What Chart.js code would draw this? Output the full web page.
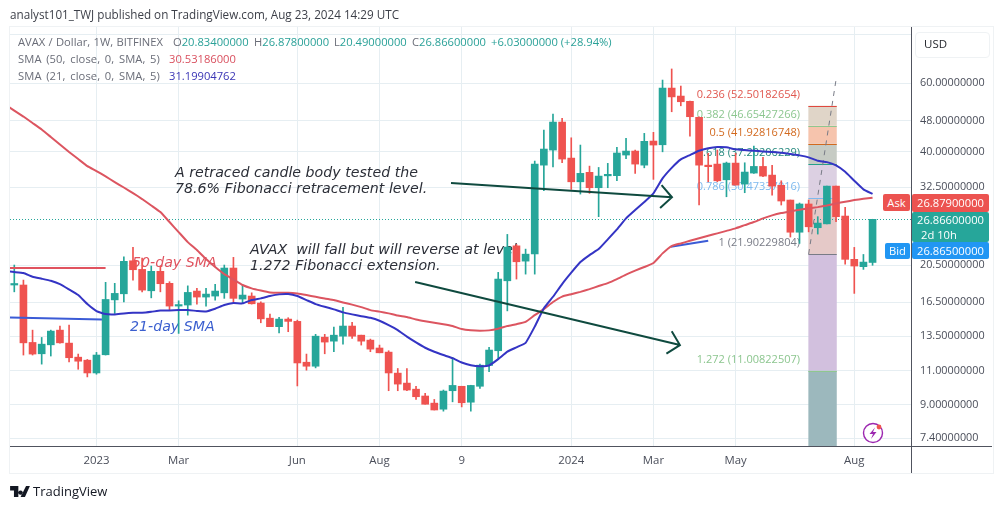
<!DOCTYPE html>
<html>
<head>
<meta charset="utf-8">
<title>AVAX / Dollar</title>
<script src="https://cdn.jsdelivr.net/npm/chart.js@4/dist/chart.umd.min.js"></script>
<style>
  html, body { margin: 0; padding: 0; background: #fff; }
  #wrap { position: relative; width: 1003px; height: 509px; overflow: hidden; font-family: "Open Sans", sans-serif; }
  #wrap canvas { position: absolute; left: 0; top: 0; }
  .t { position: absolute; white-space: pre; font-size: 11.2px; line-height: 14px; color: #6a6d78; }
  .w { word-spacing: 1.6px; letter-spacing: 0.1px; }
  .g { color: #2aa198; }
  .box { position: absolute; }
  .tag { position: absolute; color: #fff; font-size: 11.2px; text-align: center; border-radius: 2px; }
</style>
</head>
<body>
<div id="wrap">
  <canvas id="chart" width="1003" height="509"></canvas>

  <div class="box" style="left:9px;top:26px;width:983px;height:446px;border:1.5px solid #eff2f4;box-sizing:content-box;pointer-events:none"></div>
  <div class="box" style="left:911px;top:27px;width:1px;height:446px;background:#50535e"></div>
  <div class="box" style="left:10px;top:446px;width:982px;height:1px;background:#50535e"></div>

  <div class="t" style="left:10px;top:7px;font-size:11.7px;color:#3c3f48">analyst101_TWJ published on TradingView.com, Aug 23, 2024 14:29 UTC</div>
  <div class="t" style="left:18px;top:35px;word-spacing:0.4px">AVAX / Dollar, 1W, BITFINEX</div>
  <div class="t" style="left:173px;top:35px">O<span class="g">20.83400000</span></div>
  <div class="t" style="left:254px;top:35px">H<span class="g">26.87800000</span></div>
  <div class="t" style="left:334px;top:35px">L<span class="g">20.49000000</span></div>
  <div class="t" style="left:412px;top:35px">C<span class="g">26.86600000</span></div>
  <div class="t g" style="left:491px;top:35px">+6.03000000 (+28.94%)</div>
  <div class="t w" style="left:18px;top:52px">SMA (50, close, 0, SMA, 5)</div>
  <div class="t" style="left:169px;top:52px;color:#d9505f">30.53186000</div>
  <div class="t w" style="left:18px;top:69px">SMA (21, close, 0, SMA, 5)</div>
  <div class="t" style="left:169px;top:69px;color:#3a35b5">31.19904762</div>

  <div class="box" style="left:915px;top:32px;width:73px;height:24px;background:#fff;border:1px solid #eff2f4;border-radius:4px"></div>
  <div class="t" style="left:924px;top:37px;color:#26282e;font-size:11.5px">USD</div>

  <div class="tag" style="left:883px;top:194px;width:27px;height:17px;line-height:17px;background:#ec5350">Ask</div>
  <div class="tag" style="left:912px;top:194px;width:77px;height:18px;line-height:18px;background:#ec5350">26.87900000</div>
  <div class="tag" style="left:912px;top:212px;width:77px;height:30px;background:#26a69a;line-height:14.5px;padding-top:1px;box-sizing:border-box">26.86600000<br><span style="display:block;text-align:left;padding-left:9px">2d 10h</span></div>
  <div class="tag" style="left:885px;top:243px;width:25px;height:16px;line-height:16px;background:#2196f3">Bid</div>
  <div class="tag" style="left:912px;top:242px;width:77px;height:17px;line-height:17px;background:#2196f3">26.86500000</div>

  <svg class="box" style="left:861px;top:421px" width="24" height="24" viewBox="0 0 24 24">
    <circle cx="12" cy="12" r="9.5" fill="#fff" stroke="#9c27b0" stroke-width="1.4"/>
    <path d="M14 6.5 L8.5 13 H12 L10 18 L15.5 11 H12 Z" fill="#9c27b0"/>
    <circle cx="18" cy="6" r="2.4" fill="#ef5350"/>
  </svg>

  <svg class="box" style="left:10px;top:486px" width="20" height="11" viewBox="0 0 36 20">
    <path d="M0 0 H15 V20 H7 V8 H0 Z M19 8 a4 4 0 1 0 0.01 0 Z M29 0 H36 L27 20 H19 Z" fill="#131722"/>
  </svg>
  <div class="t" style="left:33px;top:483px;font-size:13px;line-height:16px;color:#131722">TradingView</div>
</div>

<script>
// weekly candles, from oldest to newest
const opens = [
  18.24, 18.24, 13.00, 12.16, 12.82, 13.98, 12.95, 11.92, 11.71, 10.86,
  12.09, 16.71, 17.32, 21.04, 20.00, 17.63, 19.77, 18.42, 16.11, 16.21,
  17.60, 16.99, 17.09, 17.42, 20.16, 16.79, 17.09, 16.40, 15.00, 14.27,
  14.92, 14.72, 11.57, 11.30, 13.41, 13.10, 13.49, 14.32, 13.57, 13.18,
  12.58, 12.28, 10.85, 10.23, 9.87, 9.48, 9.09, 8.77, 9.78, 10.04,
  9.14, 10.04, 11.35, 12.38, 18.70, 22.98, 21.00, 21.92, 36.98, 40.42,
  47.67, 38.55, 33.52, 35.44, 32.37, 34.72, 34.75, 39.25, 40.18, 36.98,
  42.62, 41.70, 58.25, 55.57, 53.87, 49.02, 36.85, 37.21, 33.92, 37.43,
  33.07, 35.29, 36.70, 34.87, 32.83, 30.10, 24.90, 29.41, 25.57, 26.16,
  32.68, 27.39, 21.22, 20.32, 20.834
];
const highs = [
  20.52, 18.78, 13.98, 13.39, 13.98, 14.32, 14.40, 12.14, 11.76, 12.26,
  18.53, 18.42, 21.54, 22.77, 21.38, 20.40, 20.40, 18.60, 16.62, 18.15,
  17.88, 17.88, 18.31, 20.52, 21.47, 18.24, 17.42, 16.52, 15.37, 15.07,
  15.04, 14.83, 12.14, 13.64, 13.64, 14.24, 15.98, 14.63, 13.57, 13.26,
  12.80, 12.38, 11.15, 11.15, 10.04, 9.63, 9.29, 9.82, 11.90, 10.04,
  10.10, 11.44, 12.63, 19.65, 24.58, 23.17, 22.54, 37.88, 45.48, 49.98,
  48.73, 43.45, 41.63, 36.77, 36.48, 37.37, 41.07, 43.30, 40.42, 44.60,
  44.87, 61.07, 65.20, 58.95, 53.96, 49.20, 39.64, 40.42, 37.65, 39.64,
  37.50, 41.40, 38.72, 36.92, 33.72, 30.10, 29.58, 30.10, 27.29, 32.68,
  32.68, 28.83, 22.77, 21.84, 26.878
];
const lows = [
  17.52, 12.07, 12.07, 11.44, 12.00, 12.95, 11.59, 11.10, 10.61, 10.78,
  12.07, 15.42, 16.52, 18.78, 17.52, 16.91, 17.52, 15.70, 13.71, 15.27,
  16.30, 16.11, 16.69, 16.86, 16.52, 16.40, 16.30, 14.60, 14.27, 13.76,
  13.85, 10.06, 11.04, 11.19, 12.16, 12.31, 12.87, 13.31, 12.80, 12.31,
  12.23, 9.78, 9.78, 9.78, 9.29, 9.03, 8.73, 8.67, 9.16, 8.89,
  8.67, 9.92, 10.94, 11.83, 15.66, 18.89, 19.45, 19.45, 31.80, 36.62,
  37.50, 32.06, 31.18, 31.31, 27.29, 32.37, 33.72, 38.39, 35.23, 36.40,
  34.00, 40.00, 50.66, 52.47, 43.90, 29.23, 33.52, 33.52, 30.69, 32.88,
  31.43, 35.23, 34.53, 31.00, 29.23, 24.20, 23.31, 24.95, 24.63, 26.16,
  26.48, 20.64, 17.36, 20.00, 20.49
];
const closes = [
  18.34, 12.97, 12.14, 12.87, 13.90, 12.97, 11.88, 11.64, 10.86, 12.07,
  16.75, 17.36, 20.97, 19.96, 17.70, 19.77, 18.38, 16.11, 16.17, 17.46,
  16.99, 17.29, 17.60, 20.16, 16.86, 17.19, 16.33, 14.94, 14.27, 14.92,
  14.72, 11.52, 11.30, 13.49, 13.03, 13.57, 14.32, 13.49, 13.10, 12.50,
  12.23, 10.86, 10.17, 9.82, 9.44, 9.03, 8.73, 9.76, 10.09, 9.11,
  10.09, 11.37, 12.43, 18.89, 22.81, 20.92, 21.88, 37.21, 40.66, 47.67,
  38.33, 33.52, 35.23, 32.37, 34.67, 34.81, 39.72, 40.18, 37.21, 42.55,
  41.63, 58.25, 55.30, 53.74, 49.20, 36.98, 36.65, 33.72, 37.43, 32.88,
  35.50, 36.70, 34.67, 32.68, 29.93, 24.90, 29.41, 25.71, 26.28, 32.68,
  27.29, 21.22, 20.40, 20.88, 26.866
];
// the averages start one week before the first visible candle
const sma50 = [
  52.90, 51.02, 49.25, 47.40, 45.62, 43.65, 41.75, 39.95, 38.33, 36.77, 35.71,
  34.60, 33.46, 32.41, 31.37, 30.28, 29.15, 28.04, 26.44, 24.92, 23.49,
  22.41, 21.25, 20.28, 19.45, 18.84, 18.24, 17.88, 17.65, 17.46, 17.42,
  17.42, 17.34, 17.19, 17.02, 16.84, 16.69, 16.46, 16.25, 16.01, 15.73,
  15.59, 15.43, 15.23, 15.10, 14.89, 14.74, 14.61, 14.48, 14.32, 14.07,
  13.96, 13.92, 13.96, 14.10, 14.32, 14.48, 14.68, 15.27, 15.82, 16.50,
  17.04, 17.28, 17.52, 17.80, 18.13, 18.45, 18.89, 19.40, 19.86, 20.28,
  20.76, 21.98, 22.95, 23.31, 23.67, 24.02, 24.39, 24.73, 25.10, 25.47,
  25.96, 26.44, 27.02, 27.50, 27.88, 28.15, 28.42, 28.65, 28.87, 29.16,
  29.50, 29.80, 30.10, 30.33, 30.53
];
const sma21 = [
  19.80, 19.69, 19.57, 19.15, 18.93, 18.70, 18.34, 17.77, 17.19, 16.30, 15.64,
  15.37, 15.34, 15.43, 15.48, 15.48, 15.57, 15.70, 15.70, 15.73, 15.73,
  15.66, 15.61, 15.86, 16.21, 16.40, 16.37, 16.69, 16.86, 17.09, 17.26,
  17.29, 17.09, 16.69, 16.30, 16.04, 15.80, 15.52, 15.34, 15.18, 15.03,
  14.77, 14.40, 13.98, 13.45, 13.00, 12.60, 12.31, 12.07, 11.85, 11.55,
  11.37, 11.30, 11.35, 11.78, 12.31, 12.63, 12.97, 14.27, 15.90, 17.02,
  18.34, 19.61, 20.88, 21.76, 22.54, 23.87, 25.31, 27.02, 28.37, 29.75,
  31.31, 34.20, 36.40, 38.26, 39.25, 40.25, 40.83, 41.14, 41.07, 40.59,
  40.42, 40.25, 40.10, 39.95, 39.78, 39.47, 39.17, 38.72, 37.95, 37.65,
  36.92, 35.56, 33.72, 32.06, 31.20
];

const priceTicks = [80, 60, 48, 40, 32.5, 20.5, 16.5, 13.5, 11, 9, 7.4];
const timeTickIndex = [9, 18, 31, 40, 49, 61, 70, 79, 92];
const timeTickLabels = ['2023', 'Mar', 'Jun', 'Aug', '9', '2024', 'Mar', 'May', 'Aug'];

// fibonacci tool
const fibRatios = ['0.236', '0.382', '0.5', '0.618', '0.786', '1', '1.272'];
const fibPrices = [52.50182654, 46.65427266, 41.92816748, 37.20206229, 30.47337016, 21.90229804, 11.00822507];
const fibLineColors = ['#e0483e', '#8fc78f', '#d2691e', '#26a08a', '#7db9ee', '#787b86', '#8fc78f'];
const fibTextColors = ['#e0574f', '#8cc68f', '#d2691e', '#26897f', '#7db9ee', '#787b86', '#8cc68f'];
const fibBandColors = ['#e0d5c8', '#f6c4ad', '#c6cbc4', '#dcd0e2', '#e5c9c8', '#d2c0de', '#9cb8bd'];

const AXIS_MIN = 7.06, AXIS_MAX = 83.5;
const IDX_MIN = -0.47, IDX_MAX = 98.32;
const C_UP = '#26a69a', C_DOWN = '#ef5350';

function seq(arr, start = 0) { return arr.map((v, i) => ({ x: i + start, y: v })); }

const candleColors = closes.map((c, i) => c >= opens[i] ? C_UP : C_DOWN);

// drawn under the candles, all in data space except the text offsets
const underlay = {
  id: 'underlay',
  beforeDatasetsDraw(chart) {
    const { ctx, scales: { x, y }, chartArea: a } = chart;
    const x0 = x.getPixelForValue(86.97), x1 = x.getPixelForValue(90.08);
    ctx.save();

    // bands
    fibBandColors.forEach((col, i) => {
      const top = y.getPixelForValue(fibPrices[i]);
      const bot = i + 1 < fibPrices.length ? y.getPixelForValue(fibPrices[i + 1]) : a.bottom;
      ctx.fillStyle = col;
      ctx.fillRect(x0, top, x1 - x0, bot - top);
    });
    fibPrices.forEach((p, i) => {
      const py = Math.round(y.getPixelForValue(p)) + 0.5;
      ctx.strokeStyle = fibLineColors[i];
      ctx.lineWidth = 1;
      ctx.beginPath(); ctx.moveTo(x0, py); ctx.lineTo(x1, py); ctx.stroke();
      ctx.fillStyle = fibTextColors[i];
      ctx.font = '11px "Open Sans"';
      ctx.textAlign = 'right';
      ctx.textBaseline = 'middle';
      ctx.fillText(fibRatios[i] + ' (' + p.toFixed(8) + ')', 800, py - 12);
    });

    // dashed fib trend line
    ctx.strokeStyle = '#787b86';
    ctx.setLineDash([5, 5]);
    ctx.lineWidth = 1;
    ctx.beginPath();
    ctx.moveTo(x.getPixelForValue(87), y.getPixelForValue(21.9));
    ctx.lineTo(x.getPixelForValue(90.05), y.getPixelForValue(62.2));
    ctx.stroke();

    // last price line
    const py = Math.round(y.getPixelForValue(closes[closes.length - 1])) + 0.5;
    ctx.strokeStyle = '#26a69a';
    ctx.setLineDash([1, 2]);
    ctx.beginPath(); ctx.moveTo(a.left, py); ctx.lineTo(a.right, py); ctx.stroke();
    ctx.setLineDash([]);

    // notes
    ctx.textAlign = 'left';
    ctx.textBaseline = 'middle';
    ctx.font = 'italic 14.2px "DejaVu Sans"';
    ctx.fillStyle = '#2c2f38';
    ctx.fillText('A retraced candle body tested the', 175, 173);
    ctx.fillText('78.6% Fibonacci retracement level.', 175, 189);
    ctx.fillText('AVAX  will fall but will reverse at level', 250, 250);
    ctx.fillText('1.272 Fibonacci extension.', 250, 266);
    ctx.fillStyle = '#e0535f';
    ctx.fillText('50-day SMA', 132, 263);
    ctx.fillStyle = '#3b5fcf';
    ctx.fillText('21-day SMA', 130, 327);

    ctx.restore();
  },
  afterDatasetsDraw(chart) {
    const { ctx, scales: { x, y } } = chart;
    ctx.save();
    ctx.strokeStyle = '#0f4a3f';
    ctx.lineWidth = 2;
    [[47.83, 33.27, 72.03, 30.6], [43.9, 18.56, 72.9, 12.8]].forEach(([i0, v0, i1, v1]) => {
      const ax = x.getPixelForValue(i0), ay = y.getPixelForValue(v0);
      const bx = x.getPixelForValue(i1), by = y.getPixelForValue(v1);
      const ang = Math.atan2(by - ay, bx - ax), len = 16;
      ctx.beginPath();
      ctx.moveTo(ax, ay); ctx.lineTo(bx, by);
      ctx.moveTo(bx - len * Math.cos(ang - 0.8), by - len * Math.sin(ang - 0.8));
      ctx.lineTo(bx, by);
      ctx.lineTo(bx - len * Math.cos(ang + 0.8), by - len * Math.sin(ang + 0.8));
      ctx.stroke();
    });
    ctx.restore();
  }
};

new Chart(document.getElementById('chart').getContext('2d'), {
  data: {
    datasets: [
      {
        type: 'bar', order: 5, grouped: false, barThickness: 1,
        data: seq(highs.map((h, i) => [lows[i], h])),
        backgroundColor: candleColors
      },
      {
        type: 'bar', order: 4, grouped: false, barThickness: 7, minBarLength: 1.5,
        data: seq(opens.map((o, i) => [Math.min(o, closes[i]), Math.max(o, closes[i])])),
        backgroundColor: candleColors
      },
      { type: 'line', order: 3, data: [{ x: IDX_MIN, y: 20.16 }, { x: 10, y: 20.16 }], borderColor: '#e0535f', borderWidth: 2, pointRadius: 0 },
      { type: 'line', order: 3, data: [{ x: IDX_MIN, y: 15.07 }, { x: 9.6, y: 14.88 }], borderColor: '#3b5bd6', borderWidth: 2, pointRadius: 0 },
      { type: 'line', order: 3, data: [{ x: 71.9, y: 22.85 }, { x: 76, y: 23.67 }], borderColor: '#3b5bd6', borderWidth: 2, pointRadius: 0 },
      { type: 'line', order: 2, data: seq(sma50, -1), borderColor: '#dc5560', borderWidth: 2, pointRadius: 0, tension: 0.12 },
      { type: 'line', order: 1, data: seq(sma21, -1), borderColor: '#3434c4', borderWidth: 2, pointRadius: 0, tension: 0.12 }
    ]
  },
  options: {
    responsive: false,
    animation: false,
    layout: { padding: { left: 10, top: 27, right: 0, bottom: 0 } },
    plugins: { legend: { display: false }, tooltip: { enabled: false } },
    scales: {
      x: {
        type: 'linear',
        offset: false,
        min: IDX_MIN,
        max: IDX_MAX,
        border: { display: false },
        grid: { color: '#e6eef2', offset: false, drawTicks: false },
        afterBuildTicks: s => { s.ticks = timeTickIndex.map(v => ({ value: v })); },
        afterFit: s => { s.height = 63; },
        ticks: {
          autoSkip: false,
          maxRotation: 0,
          padding: 8,
          color: '#4a4e5a',
          font: { family: '"Open Sans"', size: 11.4 },
          callback: v => timeTickLabels[timeTickIndex.indexOf(v)]
        }
      },
      y: {
        type: 'logarithmic',
        position: 'right',
        min: AXIS_MIN,
        max: AXIS_MAX,
        border: { display: false },
        grid: { color: '#e6eef2', drawTicks: false },
        afterBuildTicks: s => { s.ticks = priceTicks.map(v => ({ value: v })); },
        afterFit: s => { s.width = 91; },
        ticks: {
          autoSkip: false,
          padding: 8,
          color: '#4a4e5a',
          font: { family: '"Open Sans"', size: 10.8 },
          callback: v => v === 80 ? '' : v.toFixed(8)
        }
      }
    }
  },
  plugins: [underlay]
});
</script>
</body>
</html>
